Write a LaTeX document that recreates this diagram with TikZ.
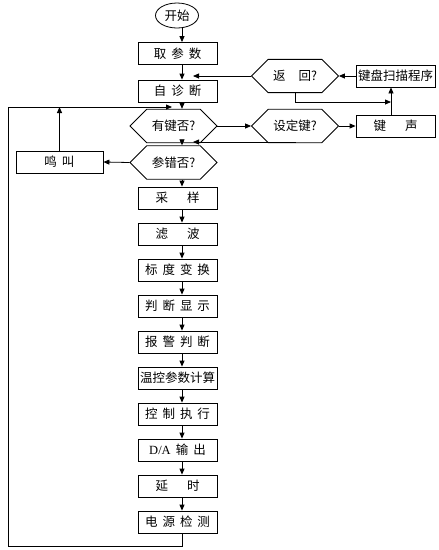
\documentclass[tikz,border=0pt]{standalone}
\usepackage{fontspec}
\setmainfont{Noto Sans CJK SC}
\newfontfamily\serifen{Liberation Serif}
\usetikzlibrary{shapes.geometric,shapes.misc,arrows.meta}
\newcommand{\gp}{\hspace{5pt}}
\newcommand{\wgp}{\hspace{19pt}}
\begin{document}
\begin{tikzpicture}[x=1pt,y=-1pt,
  every node/.style={font=\fontsize{12.5}{15}\selectfont},
  box/.style={draw, line width=0.8pt, minimum width=79pt, minimum height=22pt, inner sep=0pt},
  hex/.style={draw, line width=0.8pt, chamfered rectangle, chamfered rectangle xsep=13pt, chamfered rectangle ysep=11pt, minimum width=87pt, minimum height=22pt, inner sep=0pt},
  arr/.style={-{Triangle[length=6pt,width=5pt]}, line width=0.8pt}]
\useasboundingbox (0,0) rectangle (439,550);
\coordinate (colx) at (182,0);
\coordinate (rx) at (193,0);
\node[ellipse, draw, line width=0.8pt, minimum width=43pt, minimum height=25pt, inner sep=0pt] (start) at (177,15.5) {开始};
\node[box] (qcs) at (177.5,53.5) {取\gp 参\gp 数};
\node[box] (zzd) at (177.5,91) {自\gp 诊\gp 断};
\node[hex] (yjf) at (173.5,126) {有键否?};
\node[hex] (ccf) at (173.5,162.5) {参错否?};
\node[box] (cy) at (177.5,198) {采\wgp 样};
\node[box] (lb) at (177.5,234) {滤\wgp 波};
\node[box] (bd) at (177.5,270) {标\gp 度\gp 变\gp 换};
\node[box] (pd) at (177.5,306) {判\gp 断\gp 显\gp 示};
\node[box] (bj) at (177.5,342) {报\gp 警\gp 判\gp 断};
\node[box] (wk) at (177.5,378) {温控参数计算};
\node[box] (kz) at (177.5,414) {控\gp 制\gp 执\gp 行};
\node[box] (da) at (177.5,450) {{\serifen D/A}\gp 输\gp 出};
\node[box] (ys) at (177.5,486) {延\wgp 时};
\node[box] (pw) at (177.5,522) {电\gp 源\gp 检\gp 测};
\node[box, minimum width=87pt] (mj) at (59.5,162) {鸣\gp 叫};
\node[hex] (sdj) at (295,126) {设定键?};
\node[box] (js) at (395.5,126) {键\wgp 声};
\node[box] (jp) at (395.5,76) {键盘扫描程序};
\node[hex] (fh) at (295,76) {返\hspace{13pt}回?};
\coordinate (k1) at (391,102);
\coordinate (k2) at (193,142);
\coordinate (lbot) at (8,546);
\coordinate (lend) at (172,107);
% main column
\foreach \a/\b in {start/qcs,qcs/zzd,zzd/yjf,yjf/ccf,ccf/cy,cy/lb,lb/bd,bd/pd,pd/bj,bj/wk,wk/kz,kz/da,da/ys,ys/pw}
  \draw[arr] (\a.south -| colx) -- (\b.north -| colx);
% side branches
\draw[arr] (yjf.east) -- (sdj.west);
\draw[arr] (sdj.east) -- (js.west);
\draw[arr] (js.north -| k1) -- (jp.south -| k1);
\draw[arr] (jp.west) -- (fh.east);
\draw[arr] (fh.west) -- (fh.west -| rx);
\draw[arr] (fh.south) |- (k1);
\draw[arr] (sdj.south) |- (k2);
\draw[arr] (ccf.west) -- (mj.east);
\draw[arr] (mj.north) -- (mj.north |- lend);
\draw[arr] (pw.south -| colx) |- (lbot) |- (lend);
\end{tikzpicture}
\end{document}
